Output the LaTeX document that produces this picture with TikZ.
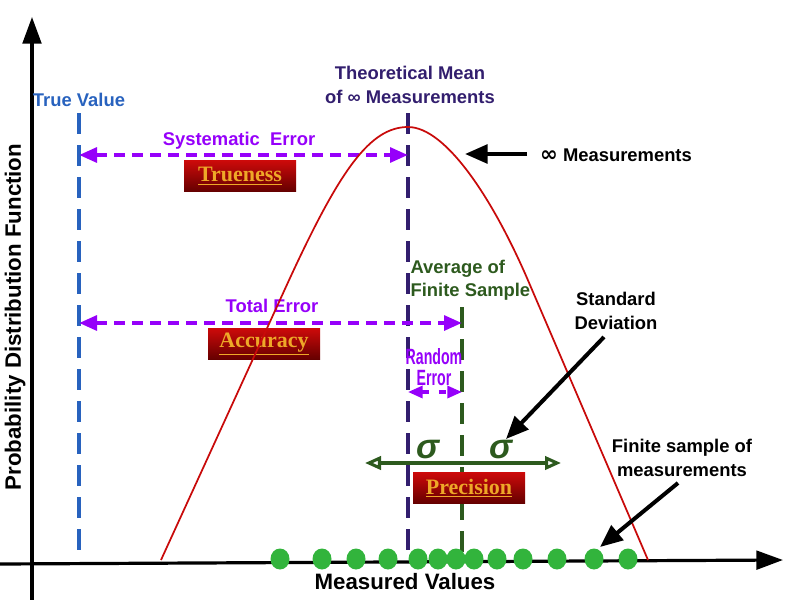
\documentclass[tikz,border=0pt]{standalone}
\usepackage{fontspec}
\setmainfont{Liberation Sans}
\newfontfamily\boxfont{Liberation Serif}
\newfontfamily\symbfont{DejaVu Sans}
\usepackage{graphicx}
\usetikzlibrary{
  arrows.meta,
  positioning
}
\definecolor{truecolor}{RGB}{40, 98, 190}
\definecolor{meancolor}{RGB}{50, 30, 110}
\definecolor{errorcolor}{RGB}{150, 0, 250}
\definecolor{samplecolor}{RGB}{45, 90, 30}
\definecolor{curvecolor}{RGB}{200, 10, 10}
\definecolor{dotcolor}{RGB}{50, 180, 60}
\definecolor{boxtop}{RGB}{205, 10, 10}
\definecolor{boxbottom}{RGB}{100, 0, 0}
\definecolor{boxtext}{RGB}{238, 168, 40}
\tikzset{
labeltext/.style={
  font=\fontsize{13.8}{17.5}\selectfont\bfseries,
  align=center,
  inner sep=1pt
},
axislabel/.style={
  font=\fontsize{16.7}{20}\selectfont\bfseries,
  inner sep=1pt
},
qualitybox/.style={
  rectangle,
  top color=boxtop,
  bottom color=boxbottom,
  minimum width=84pt,
  minimum height=23.5pt,
  inner sep=0pt,
  font=\boxfont\fontsize{16.5}{18}\selectfont\bfseries,
  text=boxtext
},
vline/.style={
  line width=2.3pt,
  dash pattern=on 16pt off 8pt
},
errarrow/.style={
  {Triangle[length=13.5pt,width=11pt]}-{Triangle[length=13.5pt,width=11pt]},
  line width=3pt,
  draw=errorcolor,
  dash pattern=on 8.5pt off 5pt
},
pointer/.style={
  -{Triangle[length=17pt,width=14pt]},
  line width=3pt,
  draw=black
},
axisarrow/.style={
  -{Triangle[length=20pt,width=14pt]},
  line width=2.4pt,
  draw=black
}
}

\begin{document}
\begin{tikzpicture}[
    x=0.75pt, y=-0.75pt,
    sigmalabel/.style={
        font=\fontsize{26}{28}\selectfont\bfseries\itshape,
        text=samplecolor,
        inner sep=0pt
    },
    randomlabel/.style={
        font=\fontsize{13.8}{16}\selectfont\bfseries,
        text=errorcolor,
        inner sep=0pt
    },
    sigmaarrow/.style={
        {Triangle[open,length=12pt,width=10pt]}-{Triangle[open,length=12pt,width=10pt]},
        line width=2.3pt,
        draw=samplecolor
    },
    randarrow/.style={
        {Triangle[length=11pt,width=9pt]}-{Triangle[length=11pt,width=9pt]},
        line width=2.4pt,
        draw=errorcolor,
        dash pattern=on 5.25pt off 7.5pt
    }
]
\useasboundingbox (0,0) rectangle (800,600);

% ============================================================================
% Achsen
% ============================================================================
\coordinate (ystart) at (32,600);
\coordinate (yend) at (32,17);
\coordinate (xstart) at (0,564);
\coordinate (xend) at (783,560);
\draw[axisarrow] (ystart) -- (yend);
\draw[axisarrow] (xstart) -- (xend);

\node[axislabel, rotate=90] (pdflabel) at (15,317) {Probability Distribution Function};
\node[axislabel] (measlabel) at (405,582) {Measured Values};

% ============================================================================
% Senkrechte Linien
% ============================================================================
\coordinate (truetop) at (79,113);
\coordinate (truebot) at (79,555);
\coordinate (meantop) at (408,113);
\coordinate (meanbot) at (408,555);
\coordinate (avgtop) at (462,307);
\coordinate (avgbot) at (462,555);
\draw[vline, draw=truecolor] (truetop) -- (truebot);
\draw[vline, draw=meancolor] (meantop) -- (meanbot);
\draw[vline, draw=samplecolor] (avgtop) -- (avgbot);

\node[labeltext, text=truecolor] (truelabel) at (79,100) {True Value};
\node[labeltext, text=meancolor, font=\fontsize{13.8}{18}\selectfont\bfseries] (meanlabel) at (410,85) {Theoretical Mean\\of ∞ Measurements};
\node[labeltext, text=samplecolor, align=left, anchor=west] (avglabel) at (409,280) {Average of\\Finite Sample};

% ============================================================================
% Fehlerpfeile
% ============================================================================
\coordinate (sysL) at (79,155);
\coordinate (sysR) at (408,155);
\draw[errarrow] (sysL) -- (sysR);
\node[labeltext, text=errorcolor] (syslabel) at (239,141) {Systematic\ \ Error};
\node[qualitybox] (trueness) at (240,176) {\underline{Trueness}};

\coordinate (totL) at (79,323);
\coordinate (totR) at (462,323);
\draw[errarrow] (totL) -- (totR);
\node[labeltext, text=errorcolor] (totlabel) at (272,306) {Total Error};
\node[qualitybox] (accuracy) at (264,344) {\underline{Accuracy}};

\coordinate (randL) at (408,392);
\coordinate (randR) at (462,392);
\draw[randarrow] (randL) -- (randR);
\node[randomlabel] (randtop) at (434,357) {\scalebox{0.77}[1.2]{Random}};
\node[randomlabel] (randbot) at (434,378) {\scalebox{0.77}[1.2]{Error}};

% ============================================================================
% Standardabweichung
% ============================================================================
\coordinate (sigL) at (365,463);
\coordinate (sigR) at (561,463);
\draw[sigmaarrow] (sigL) -- (sigR);
\node[sigmalabel] (sigmaleft) at (428,450) {σ};
\node[sigmalabel] (sigmaright) at (501,450) {σ};
\node[qualitybox] (precision) at (469,488) {\underline{Precision}};

% ============================================================================
% Verteilungskurve
% ============================================================================
\draw[curvecolor, line width=1.3pt] (161,560) -- (290,278) .. controls (340,170) and (370,127) .. (408,127)
    .. controls (446,127) and (494,200) .. (530,285) -- (648,560);

% ============================================================================
% Hinweispfeile
% ============================================================================
\node[labeltext] (inflabel) at (616,155) {{\symbfont\fontsize{16}{16}\selectfont ∞} Measurements};
\coordinate (infstart) at (527,154);
\coordinate (infend) at (465,154);
\draw[pointer] (infstart) -- (infend);

\node[labeltext] (sdlabel) at (616,311) {Standard\\Deviation};
\coordinate (sdstart) at (604,337);
\coordinate (sdend) at (506,439);
\draw[pointer] (sdstart) -- (sdend);

\node[labeltext] (samplelabel) at (682,458) {Finite sample of\\measurements};
\coordinate (smpstart) at (678,483);
\coordinate (smpend) at (600,547);
\draw[pointer] (smpstart) -- (smpend);

% ============================================================================
% Messpunkte
% ============================================================================
\foreach \px in {280,322,356,388,418,438,456,474,497,523,557,594,628}
    \fill[dotcolor] (\px,559) ellipse [x radius=9.5, y radius=10.5];

\end{tikzpicture}
\end{document}
